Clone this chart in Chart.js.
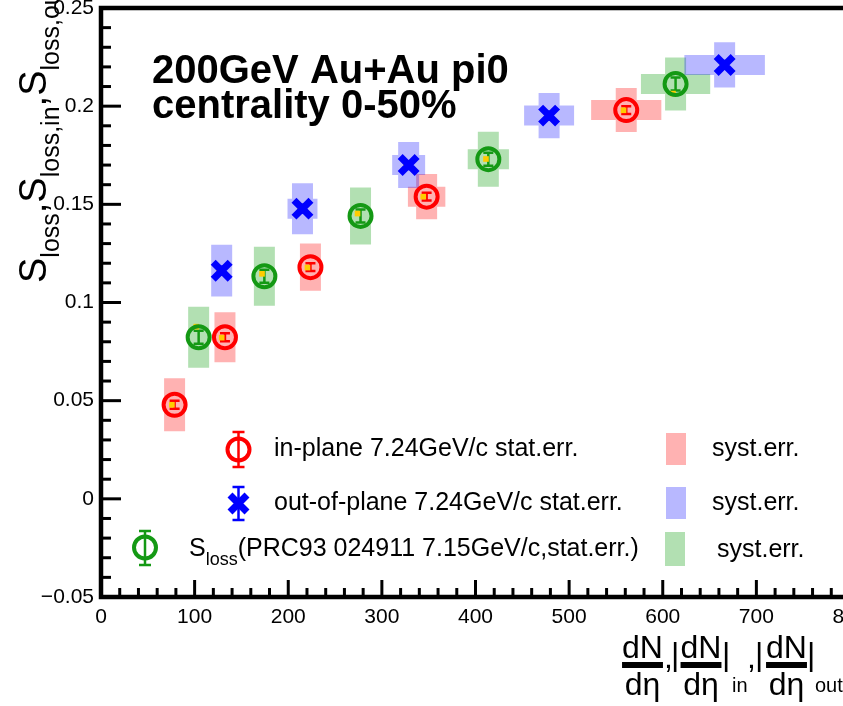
<!DOCTYPE html>
<html>
<head>
<meta charset="utf-8">
<script src="https://cdn.jsdelivr.net/npm/chart.js@4.4.1/dist/chart.umd.min.js"></script>
<style>
html, body { margin: 0; padding: 0; background: #fff; overflow: hidden; }
canvas { display: block; }
</style>
</head>
<body>
<canvas id="chart" width="880" height="706"></canvas>
<script>
"use strict";
// in-plane 7.24 GeV/c
const inX = [78.6, 132.4, 223.7, 347.8, 561.0];
const inY = [0.0479, 0.0823, 0.1180, 0.1539, 0.1980];
const inStat = [0.002, 0.002, 0.002, 0.002, 0.002];
const inSystX = [5, 6, 8, 20, 37.5];
const inSystY = [0.0135, 0.0127, 0.0120, 0.0115, 0.0112];
// out-of-plane 7.24 GeV/c
const outX = [128.9, 215.2, 328.6, 478.6, 666.1];
const outY = [0.1162, 0.1478, 0.1700, 0.1952, 0.2210];
const outStat = [0.002, 0.002, 0.002, 0.002, 0.002];
const outSystX = [8, 16, 17.6, 26.7, 43];
const outSystY = [0.0132, 0.0130, 0.0117, 0.0115, 0.0115];
// S_loss PRC93 024911, 7.15 GeV/c
const refX = [104.3, 174.5, 277.2, 413.7, 613.7];
const refY = [0.0823, 0.1134, 0.1441, 0.1730, 0.2113];
const refStat = [0.0033, 0.0033, 0.0033, 0.0033, 0.0033];
const refSystX = [6, 8, 10, 22, 37];
const refSystY = [0.0155, 0.0150, 0.0145, 0.0140, 0.0135];
// small yellow marks
const markX = [75.7, 128.9, 220.5, 344.2, 558.1, 126.0, 212.6, 325.7, 476.1, 663.3, 101.8, 172.0, 274.0, 411.2, 610.9];
const markY = [0.0479, 0.0821, 0.1178, 0.1539, 0.1979, 0.1162, 0.1478, 0.1700, 0.1952, 0.2208, 0.0877, 0.1146, 0.1453, 0.1731, 0.2064];

const FONT = '"Liberation Sans", Arial, Helvetica, sans-serif';
const RED = '#ff0000', BLUE = '#0000ff', GREEN = '#149914';

const groups = [
    { x: inX, y: inY, st: inStat, sx: inSystX, sy: inSystY, color: RED, box: 'rgba(255,0,0,0.3)', cap: 5 },
    { x: refX, y: refY, st: refStat, sx: refSystX, sy: refSystY, color: GREEN, box: 'rgba(0,153,0,0.3)', cap: 5 },
    { x: outX, y: outY, st: outStat, sx: outSystX, sy: outSystY, color: BLUE, box: 'rgba(0,0,255,0.28)', cap: 5 }
];

function pts(xs, ys) {
    return xs.map((x, i) => ({ x: x, y: ys[i] }));
}

function errBar(ctx, px, y0, y1, cap, color) {
    ctx.strokeStyle = color;
    ctx.lineWidth = 2.5;
    ctx.beginPath();
    ctx.moveTo(px, y0); ctx.lineTo(px, y1);
    ctx.moveTo(px - cap, y0); ctx.lineTo(px + cap, y0);
    ctx.moveTo(px - cap, y1); ctx.lineTo(px + cap, y1);
    ctx.stroke();
}

function rich(ctx, x, y, parts) {
    parts.forEach(p => {
        ctx.font = p[1];
        ctx.fillText(p[0], x, y + p[2]);
        x += ctx.measureText(p[0]).width;
    });
}

const systBoxes = {
    id: 'systBoxes',
    beforeDatasetsDraw(chart) {
        const ctx = chart.ctx, xs = chart.scales.x, ys = chart.scales.y, a = chart.chartArea;
        ctx.save();
        ctx.beginPath();
        ctx.rect(a.left, a.top, a.right - a.left, a.bottom - a.top);
        ctx.clip();
        groups.forEach(g => {
            g.x.forEach((x, i) => {
                const px = xs.getPixelForValue(x), py = ys.getPixelForValue(g.y[i]);
                const hx = Math.max(xs.getPixelForValue(x + g.sx[i]) - px, 10.5);
                const hy = py - ys.getPixelForValue(g.y[i] + g.sy[i]);
                ctx.fillStyle = g.box;
                ctx.beginPath();
                ctx.rect(px - 10.5, py - hy, 21, 2 * hy);
                ctx.rect(px - hx, py - 10, 2 * hx, 20);
                ctx.fill('nonzero');
            });
        });
        groups.forEach(g => {
            g.x.forEach((x, i) => {
                const px = xs.getPixelForValue(x);
                errBar(ctx, px, ys.getPixelForValue(g.y[i] + g.st[i]), ys.getPixelForValue(g.y[i] - g.st[i]), g.cap, g.color);
            });
        });
        ctx.restore();
    }
};

const frame = {
    id: 'frame',
    afterDraw(chart) {
        const ctx = chart.ctx, a = chart.chartArea, xs = chart.scales.x, ys = chart.scales.y;
        ctx.save();
        ctx.strokeStyle = '#000';
        ctx.lineWidth = 3;
        xs.ticks.forEach(t => {
            const px = xs.getPixelForValue(t.value);
            const len = Math.round(t.value) % 100 === 0 ? 17 : 9;
            ctx.beginPath(); ctx.moveTo(px, a.bottom); ctx.lineTo(px, a.bottom - len); ctx.stroke();
        });
        ys.ticks.forEach(t => {
            const py = ys.getPixelForValue(t.value);
            const len = Math.round(t.value * 100) % 5 === 0 ? 20 : 10;
            ctx.beginPath(); ctx.moveTo(a.left, py); ctx.lineTo(a.left + len, py); ctx.stroke();
        });
        ctx.lineWidth = 4.5;
        ctx.strokeRect(a.left, a.top, a.right - a.left, a.bottom - a.top);

        ctx.fillStyle = '#000';
        ctx.textAlign = 'left';
        ctx.textBaseline = 'alphabetic';
        // title
        ctx.font = 'bold 40px ' + FONT;
        ctx.fillText('200GeV Au+Au pi0', 152, 83);
        ctx.fillText('centrality 0-50%', 152, 118);

        // legend
        const lf = '25px ' + FONT;
        ctx.lineWidth = 4;
        ctx.strokeStyle = RED;
        ctx.beginPath(); ctx.arc(238.5, 449.5, 11, 0, Math.PI * 2); ctx.stroke();
        errBar(ctx, 238.5, 432, 467, 6, RED);
        errBar(ctx, 238.5, 487, 520, 6, BLUE);
        ctx.strokeStyle = BLUE;
        ctx.lineWidth = 7;
        ctx.beginPath();
        ctx.moveTo(230, 495); ctx.lineTo(247, 512);
        ctx.moveTo(247, 495); ctx.lineTo(230, 512);
        ctx.stroke();
        ctx.lineWidth = 4;
        ctx.strokeStyle = GREEN;
        ctx.beginPath(); ctx.arc(145, 547.5, 11, 0, Math.PI * 2); ctx.stroke();
        errBar(ctx, 145, 531, 565, 6, GREEN);

        ctx.fillStyle = 'rgba(255,0,0,0.3)'; ctx.fillRect(666, 433, 20, 32);
        ctx.fillStyle = 'rgba(0,0,255,0.28)'; ctx.fillRect(666, 487, 20, 32);
        ctx.fillStyle = 'rgba(0,153,0,0.3)'; ctx.fillRect(665, 532, 20, 34);

        ctx.fillStyle = '#000';
        ctx.font = lf;
        ctx.fillText('in-plane 7.24GeV/c stat.err.', 274, 456);
        ctx.fillText('out-of-plane 7.24GeV/c stat.err.', 274, 510);
        rich(ctx, 189, 556, [['S', lf, 0], ['loss', '18px ' + FONT, 9], ['(PRC93 024911 7.15GeV/c,stat.err.)', lf, 0]]);
        ctx.font = lf;
        ctx.fillText('syst.err.', 712, 456);
        ctx.fillText('syst.err.', 712, 510);
        ctx.fillText('syst.err.', 717, 557);

        // y title
        ctx.save();
        ctx.translate(46, 283);
        ctx.rotate(-Math.PI / 2);
        const big = '38px ' + FONT, sub = '25px ' + FONT;
        rich(ctx, 0, 0, [['S', big, 0], ['loss', sub, 13], [',', big, 0], ['S', big, 0], ['loss,in', sub, 13],
            [',', big, 0], ['S', big, 0], ['loss,out', sub, 13]]);
        ctx.restore();

        // x title
        const ff = '32px ' + FONT;
        ctx.font = ff;
        [642.5, 701, 786.5].forEach(cx => {
            ctx.font = ff;
            ctx.textAlign = 'center';
            ctx.fillText('dN', cx, 658);
            ctx.fillText('dη', cx, 695);
            const w = ctx.measureText('dN').width;
            ctx.fillRect(cx - w / 2, 662, w, 6);
        });
        ctx.textAlign = 'left';
        ctx.font = ff;
        ctx.fillText(',', 664, 668);
        ctx.fillText('|', 671, 665);
        ctx.fillText('|', 722, 665);
        ctx.fillText(',', 747, 668);
        ctx.fillText('|', 755, 665);
        ctx.fillText('|', 807, 665);
        ctx.font = '20px ' + FONT;
        ctx.fillText('in', 732, 692);
        ctx.fillText('out', 815, 692);
        ctx.restore();
    }
};

const ctx = document.getElementById('chart').getContext('2d');
new Chart(ctx, {
    type: 'scatter',
    data: {
        datasets: [
            { data: pts(inX, inY), pointStyle: 'circle', pointRadius: 11, pointBorderWidth: 4,
              pointBorderColor: RED, pointBackgroundColor: 'rgba(0,0,0,0)' },
            { data: pts(refX, refY), pointStyle: 'circle', pointRadius: 11, pointBorderWidth: 4,
              pointBorderColor: GREEN, pointBackgroundColor: 'rgba(0,0,0,0)' },
            { data: pts(outX, outY), pointStyle: 'crossRot', pointRadius: 12, pointBorderWidth: 7,
              pointBorderColor: BLUE, pointBackgroundColor: BLUE },
            { data: pts(markX, markY), pointStyle: 'rect', pointRadius: 4, pointBorderWidth: 0,
              pointBackgroundColor: '#ffcc00', pointBorderColor: '#ffcc00' }
        ]
    },
    options: {
        responsive: false,
        animation: false,
        events: [],
        layout: { autoPadding: false, padding: { top: 8, right: 30, left: 0, bottom: 0 } },
        plugins: { legend: { display: false }, tooltip: { enabled: false } },
        scales: {
            x: {
                type: 'linear', min: 0, max: 800,
                afterFit: s => { s.height = 109; s.paddingLeft = 0; s.paddingRight = 0; },
                grid: { display: false, drawTicks: false },
                border: { display: false },
                ticks: {
                    stepSize: 20, autoSkip: false, maxRotation: 0, maxTicksLimit: 100, padding: 8,
                    color: '#000', font: { family: FONT, size: 21 },
                    callback: v => Math.round(v) % 100 === 0 ? String(Math.round(v)) : ''
                }
            },
            y: {
                type: 'linear', min: -0.05, max: 0.25,
                afterFit: s => { s.width = 101; s.paddingTop = 0; s.paddingBottom = 0; },
                grid: { display: false, drawTicks: false },
                border: { display: false },
                ticks: {
                    stepSize: 0.01, autoSkip: false, maxTicksLimit: 100, padding: 7,
                    color: '#000', font: { family: FONT, size: 21, lineHeight: 0.2 },
                    callback: v => {
                        const k = Math.round(v * 100);
                        if (k % 5 !== 0) return '';
                        if (k === 0) return '0';
                        return (k < 0 ? '\u2212' : '') + String(Math.abs(k) / 100);
                    }
                }
            }
        }
    },
    plugins: [systBoxes, frame]
});
</script>
</body>
</html>
